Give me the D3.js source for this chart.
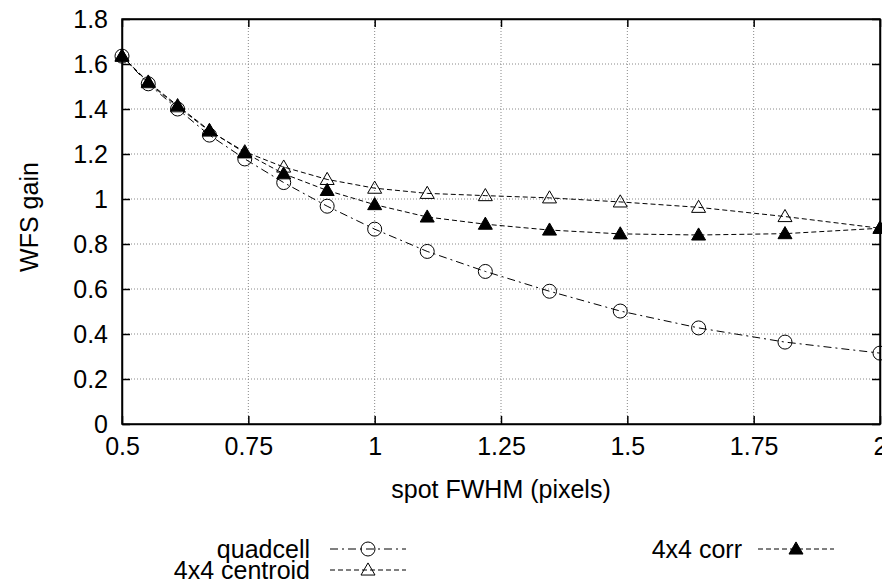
<!DOCTYPE html>
<html>
<head>
<meta charset="utf-8">
<script src="https://d3js.org/d3.v7.min.js"></script>
<style>
    body { margin: 0; background: #fff; }
    svg text { font-family: "Liberation Sans", Arial, sans-serif; fill: #000; }
</style>
</head>
<body>
<div id="chart"></div>
<script>

// spot FWHM (pixels)
let fwhm = [0.5, 0.552, 0.61, 0.673, 0.743, 0.82, 0.906, 1.0, 1.104, 1.219, 1.346, 1.486, 1.641, 1.812, 2.0];

// WFS gain per method
let quadcell = [1.635, 1.512, 1.40, 1.284, 1.178, 1.073, 0.968, 0.866, 0.767, 0.678, 0.59, 0.502, 0.427, 0.364, 0.315];
let centroid = [1.635, 1.517, 1.41, 1.302, 1.21, 1.142, 1.087, 1.048, 1.025, 1.015, 1.005, 0.987, 0.963, 0.922, 0.87];
let corr = [1.635, 1.52, 1.415, 1.305, 1.205, 1.112, 1.038, 0.975, 0.92, 0.888, 0.862, 0.845, 0.84, 0.846, 0.87];

let xTicks = [0.5, 0.75, 1, 1.25, 1.5, 1.75, 2];
let yTicks = [0, 0.2, 0.4, 0.6, 0.8, 1, 1.2, 1.4, 1.6, 1.8];

let seriesNames = ["quadcell", "4x4 centroid", "4x4 corr"];

let margin = {top: 19, right: 2, bottom: 160, left: 122},
    width = 882 - margin.left - margin.right,
    height = 584 - margin.top - margin.bottom;

let svg = d3.select("#chart").append("svg")
    .attr("width", 882)
    .attr("height", 584);

let g = svg.append("g")
    .attr("transform", "translate(" + margin.left + "," + margin.top + ")");

let x = d3.scaleLinear().domain([0.5, 2]).range([0, width]);
let y = d3.scaleLinear().domain([0, 1.8]).range([height, 0]);

let fontSize = 25;

// ---- GRID ----
g.append("g")
    .selectAll("line")
    .data(xTicks.slice(1, -1))
    .enter().append("line")
    .attr("x1", d => x(d)).attr("x2", d => x(d))
    .attr("y1", 0).attr("y2", height)
    .attr("stroke", "#888").attr("stroke-dasharray", "1,2");

g.append("g")
    .selectAll("line")
    .data(yTicks.slice(1, -1))
    .enter().append("line")
    .attr("y1", d => y(d)).attr("y2", d => y(d))
    .attr("x1", 0).attr("x2", width)
    .attr("stroke", "#888").attr("stroke-dasharray", "1,2");

// ---- AXES (gnuplot style: inward ticks on all four sides) ----
let xAxis = d3.axisBottom(x).tickValues(xTicks).tickSizeInner(-8).tickSizeOuter(0)
    .tickFormat(d3.format("~g")).tickPadding(13);
let yAxis = d3.axisLeft(y).tickValues(yTicks).tickSizeInner(-8).tickSizeOuter(0)
    .tickFormat(d3.format("~g")).tickPadding(14);

let xAxisGroup = g.append("g")
    .attr("transform", "translate(0," + height + ")")
    .call(xAxis);
let yAxisGroup = g.append("g").call(yAxis);

g.append("g").call(d3.axisTop(x).tickValues(xTicks).tickSizeInner(-8).tickSizeOuter(0).tickFormat(""));
g.append("g").attr("transform", "translate(" + width + ",0)")
    .call(d3.axisRight(y).tickValues(yTicks).tickSizeInner(-8).tickSizeOuter(0).tickFormat(""));

svg.selectAll(".domain").attr("stroke", "#000").attr("stroke-width", 1.5);
svg.selectAll(".tick line").attr("stroke", "#000").attr("stroke-width", 1.5);
svg.selectAll(".tick text").attr("font-size", fontSize).attr("font-family", "Liberation Sans, Arial, sans-serif");

// frame
g.append("rect")
    .attr("width", width).attr("height", height)
    .attr("fill", "none").attr("stroke", "#000").attr("stroke-width", 1.5);

// axis titles
g.append("text")
    .attr("x", width / 2)
    .attr("y", height + 74)
    .attr("text-anchor", "middle")
    .attr("font-size", fontSize)
    .text("spot FWHM (pixels)");

svg.append("text")
    .attr("transform", "translate(38,217) rotate(-90)")
    .attr("text-anchor", "middle")
    .attr("font-size", fontSize)
    .text("WFS gain");

// ---- SERIES ----
let styles = [
    {values: quadcell, dash: "8,4,2,4", marker: "circle"},
    {values: centroid, dash: "5,3", marker: "triangle"},
    {values: corr, dash: "5,3", marker: "filled"}
];

let line = d3.line()
    .x(d => x(d[0]))
    .y(d => y(d[1]));

let triangle = d3.symbol().type(d3.symbolTriangle).size(85);

function drawMarker(sel, type) {
    if (type === "circle") {
        sel.append("circle").attr("r", 7)
            .attr("fill", "none").attr("stroke", "#000").attr("stroke-width", 1);
    } else {
        sel.append("path").attr("d", triangle)
            .attr("transform", "translate(0,1)")
            .attr("fill", type === "filled" ? "#000" : "none")
            .attr("stroke", "#000").attr("stroke-width", 1);
    }
}

let plot = g.append("g");

styles.forEach(function (s) {
    let pts = fwhm.map((f, i) => [f, s.values[i]]);
    plot.append("path")
        .datum(pts)
        .attr("d", line)
        .attr("fill", "none")
        .attr("stroke", "#000")
        .attr("stroke-width", 1)
        .attr("stroke-dasharray", s.dash);

    plot.append("g").selectAll("g")
        .data(pts)
        .enter().append("g")
        .attr("transform", d => "translate(" + x(d[0]) + "," + y(d[1]) + ")")
        .each(function () { drawMarker(d3.select(this), s.marker); });
});

// ---- LEGEND ----
let legendPos = [
    {tx: 310, ty: 549, lx: 330},
    {tx: 310, ty: 570, lx: 330},
    {tx: 742, ty: 549, lx: 758}
];

styles.forEach(function (s, i) {
    let p = legendPos[i];
    let lg = svg.append("g");
    lg.append("text")
        .attr("x", p.tx).attr("y", p.ty)
        .attr("dy", "0.35em")
        .attr("text-anchor", "end")
        .attr("font-size", fontSize)
        .text(seriesNames[i]);
    lg.append("line")
        .attr("x1", p.lx).attr("x2", p.lx + 76)
        .attr("y1", p.ty).attr("y2", p.ty)
        .attr("stroke", "#000").attr("stroke-width", 1)
        .attr("stroke-dasharray", s.dash);
    lg.append("g")
        .attr("transform", "translate(" + (p.lx + 38) + "," + p.ty + ")")
        .call(drawMarker, s.marker);
});

</script>
</body>
</html>
